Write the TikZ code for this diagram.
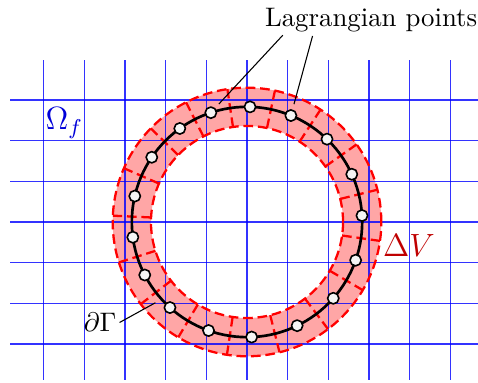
\documentclass[tikz,border=0pt]{standalone}
\begin{document}
\begin{tikzpicture}[scale=0.5336,line join=round,
  grid/.style={blue,line width=0.5pt,opacity=0.8},
  band/.style={red,line width=0.85pt,dash pattern=on 3.6pt off 1.8pt},
  lpt/.style={circle,draw=black,fill=gray!8,line width=0.6pt,inner sep=0pt,minimum size=4.2pt},
  lbl/.style={inner sep=1pt}]
  \useasboundingbox (-6.07,-3.956) rectangle (5.676,5.455);
  % 圆心与半径
  \coordinate (O) at (0,0);
  \def\r{2.83}
  \def\ri{2.36}
  \def\ro{3.30}

  % 环带
  \fill[red!35,even odd rule] (O) circle (\ro) (O) circle (\ri);

  % 欧拉网格
  \foreach \x in {-5,...,5} \draw[grid] (\x,3.98) -- (\x,-3.88);
  \foreach \y in {-3,...,3} \draw[grid] (-5.82,\y) -- (5.676,\y);

  % 环带边界与分割
  \draw[band] (O) circle (\ro);
  \draw[band] (O) circle (\ri);
  \foreach \a in {78,56.8,35.3,13.9,-8.1,-30.5,-52.9,-76,-98.6,-120.8,-142.3,-162.5,177.3,156.4,135.8,117,98.4}
    \draw[band] (\a:\ri) -- (\a:\ro);

  % 界面与拉格朗日点
  \draw[line width=1pt] (O) circle (\r);
  \foreach \a [count=\i] in {88.5,67.6,46,24.5,3.2,-19.4,-41.5,-64.2,-87.7,-109.5,-132,-152.6,-172.4,167,145.8,125.7,108.3}
    \node[lpt] (p\i) at (\a:\r) {};

  % 标注
  \node[lbl] (lag) at (3.05,4.96) {Lagrangian points};
  \coordinate (l1) at (0.88,4.59);
  \coordinate (l2) at (1.61,4.57);
  \draw[shorten >=2pt] (l1) -- (p17);
  \draw[shorten >=2pt] (l2) -- (p2);
  \node[lbl] (dG) at (-3.61,-2.47) {$\partial\Gamma$};
  \coordinate (g) at (-138.6:3.0);
  \draw (dG.east) -- (g);
  \node[lbl,text=red!75!black,font=\large] (dV) at (3.98,-0.57) {$\Delta V$};
  \node[lbl,text=blue!85!black,font=\large] (Om) at (-4.49,2.43) {$\Omega_f$};
\end{tikzpicture}
\end{document}
